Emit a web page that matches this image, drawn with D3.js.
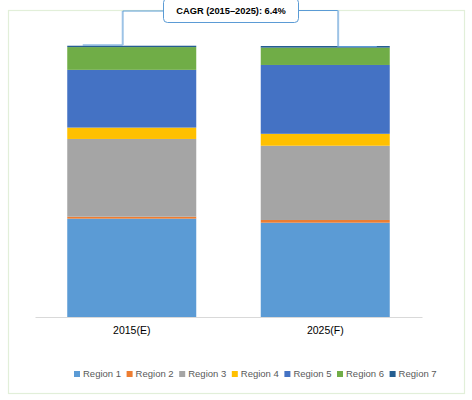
<!DOCTYPE html>
<html>
<head>
<meta charset="utf-8">
<script src="https://cdn.jsdelivr.net/npm/d3@7"></script>
<style>
  body { margin: 0; background: #fff; }
  svg text { font-family: "Liberation Sans", Arial, sans-serif; }
</style>
</head>
<body>
<svg id="chart" width="472" height="400"></svg>
<script>
// Chart data (share of total, %)
const categories = ['2015(E)', '2025(F)'];
const regions = ['Region 1', 'Region 2', 'Region 3', 'Region 4', 'Region 5', 'Region 6', 'Region 7'];
const share2015 = [36.3, 0.7, 28.7, 4.2, 21.3, 8.4, 0.5];
const share2025 = [34.8, 1.0, 27.4, 4.4, 25.4, 6.4, 0.6];
const colors = ['#5b9bd5', '#ed7d31', '#a5a5a5', '#ffc000', '#4472c4', '#70ad47', '#255e91'];
const cagrLabel = 'CAGR (2015\u20132025): 6.4%';

const svg = d3.select('#chart');

// Outer chart border
svg.append('rect')
    .attr('x', 8.5).attr('y', 10.5)
    .attr('width', 456).attr('height', 383)
    .attr('fill', 'none')
    .attr('stroke', '#e2efd9')
    .attr('stroke-width', 1.2);

// Build rows for the stack
const rows = categories.map((c, i) => {
    const vals = i === 0 ? share2015 : share2025;
    const row = { category: c };
    regions.forEach((r, j) => { row[r] = vals[j]; });
    return row;
});
const series = d3.stack().keys(regions)(rows);

// Scales
const x = d3.scaleBand()
    .domain(categories)
    .range([35, 422])
    .paddingInner(1 / 3)
    .paddingOuter(1 / 6);

const y = d3.scaleLinear()
    .domain([0, 100])
    .range([317, 46]);

// Bars
svg.append('g')
    .selectAll('g')
    .data(series)
    .join('g')
    .attr('fill', (d, i) => colors[i])
    .selectAll('rect')
    .data(d => d)
    .join('rect')
    .attr('x', d => x(d.data.category))
    .attr('y', d => y(d[1]))
    .attr('width', x.bandwidth())
    .attr('height', d => y(d[0]) - y(d[1]));

// X axis
const xAxis = svg.append('g')
    .attr('transform', 'translate(0,317)')
    .call(d3.axisBottom(x).tickSize(0).tickPadding(10));
xAxis.select('.domain').attr('stroke', '#d9d9d9');
xAxis.selectAll('text')
    .attr('font-size', '10.5px')
    .attr('fill', '#000');

// CAGR connector lines
const topY = y(100);
const x0 = x(categories[0]), x1 = x(categories[1]);
const bw = x.bandwidth();
const lineY = 11;
const leftVX = x0 + bw * 0.43;
const rightVX = x1 + bw * 0.6;

const conn = svg.append('g').attr('fill', 'none');
// left elbow
conn.append('line')
    .attr('x1', x0 + bw * 0.12).attr('x2', leftVX)
    .attr('y1', topY - 1).attr('y2', topY - 1)
    .attr('stroke', '#5b9bd5').attr('stroke-width', 1);
conn.append('line')
    .attr('x1', leftVX).attr('x2', leftVX)
    .attr('y1', topY - 1).attr('y2', lineY)
    .attr('stroke', '#9dc3e6').attr('stroke-width', 2);
conn.append('line')
    .attr('x1', leftVX).attr('x2', 163)
    .attr('y1', lineY).attr('y2', lineY)
    .attr('stroke', '#5b9bd5').attr('stroke-width', 1);
// right elbow
conn.append('line')
    .attr('x1', 299).attr('x2', rightVX)
    .attr('y1', lineY - 0.5).attr('y2', lineY - 0.5)
    .attr('stroke', '#5b9bd5').attr('stroke-width', 1);
conn.append('line')
    .attr('x1', rightVX).attr('x2', rightVX)
    .attr('y1', lineY - 0.5).attr('y2', topY + 0.5)
    .attr('stroke', '#9dc3e6').attr('stroke-width', 2);
conn.append('line')
    .attr('x1', rightVX).attr('x2', x1 + bw * 0.9)
    .attr('y1', topY + 0.5).attr('y2', topY + 0.5)
    .attr('stroke', '#5b9bd5').attr('stroke-width', 1);

// CAGR label box
svg.append('rect')
    .attr('x', 163.5).attr('y', -1.5)
    .attr('width', 135).attr('height', 24)
    .attr('rx', 4)
    .attr('fill', '#fff')
    .attr('stroke', '#5b9bd5')
    .attr('stroke-width', 1);
svg.append('text')
    .attr('x', 231)
    .attr('y', 11)
    .attr('dy', '0.35em')
    .attr('text-anchor', 'middle')
    .attr('font-size', '9.3px')
    .attr('font-weight', 'bold')
    .attr('fill', '#000')
    .text(cagrLabel);

// Legend
const legend = svg.append('g')
    .selectAll('g')
    .data(regions)
    .join('g')
    .attr('transform', (d, i) => `translate(${74 + i * 52.6},374)`);
legend.append('rect')
    .attr('x', 0).attr('y', -3)
    .attr('width', 6).attr('height', 6)
    .attr('fill', (d, i) => colors[i]);
legend.append('text')
    .attr('x', 9)
    .attr('y', 0)
    .attr('dy', '0.35em')
    .attr('font-size', '9.5px')
    .attr('fill', '#595959')
    .text(d => d);
</script>
</body>
</html>
